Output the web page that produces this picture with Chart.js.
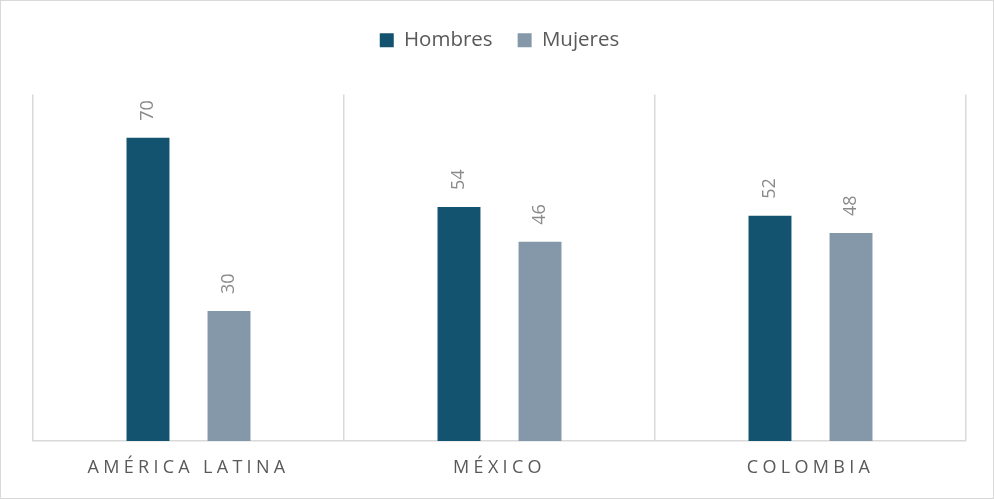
<!DOCTYPE html>
<html>
<head>
<meta charset="utf-8">
<script src="https://cdn.jsdelivr.net/npm/chart.js@4/dist/chart.umd.min.js"></script>
<style>
html,body{margin:0;padding:0;background:#fff;}
#wrap{width:994px;height:499px;position:relative;}
</style>
</head>
<body>
<div id="wrap"><canvas id="c" width="994" height="499"></canvas></div>
<script>
const categories = ["AMÉRICA LATINA", "MÉXICO", "COLOMBIA"];
const seriesNames = ["Hombres", "Mujeres"];
const hombres = [70, 54, 52];
const mujeres = [30, 46, 48];
const colors = ["#14536F", "#8598AA"];

const FONT = "'Open Sans', 'Liberation Sans', sans-serif";

const labelPlugin = {
  id: 'valueLabels',
  beforeLayout(chart) {
    const lg = chart.legend;
    if (lg && !lg._fitPatched) {
      const f = lg.fit.bind(lg);
      lg.fit = function () { f(); this.height += 34; };
      lg._fitPatched = true;
    }
  },
  afterLayout(chart) {
    const sc = chart.scales.x;
    if (sc && !sc._lsPatched) {
      const orig = sc.drawLabels.bind(sc);
      sc.drawLabels = function (area) {
        const ctx = this.ctx;
        ctx.save();
        ctx.letterSpacing = "4.3px";
        orig(area);
        ctx.restore();
      };
      sc._lsPatched = true;
    }
  },
  afterDatasetsDraw(chart) {
    const ctx = chart.ctx;
    chart.data.datasets.forEach((ds, i) => {
      const meta = chart.getDatasetMeta(i);
      meta.data.forEach((el, j) => {
        ctx.save();
        ctx.translate(el.x, el.y - 17);
        ctx.rotate(-Math.PI / 2);
        ctx.font = "18px " + FONT;
        ctx.fillStyle = "#8a8a8a";
        ctx.textAlign = "left";
        ctx.textBaseline = "middle";
        ctx.fillText(String(ds.data[j]), 0, 0);
        ctx.restore();
      });
    });
  },
  afterDraw(chart) {
    const ctx = chart.ctx;
    ctx.save();
    ctx.strokeStyle = "#d9d9d9";
    ctx.lineWidth = 1;
    ctx.strokeRect(0.5, 0.5, chart.width - 1, chart.height - 1);
    ctx.restore();
  }
};

new Chart(document.getElementById('c'), {
  type: 'bar',
  data: {
    labels: categories,
    datasets: [
      { label: seriesNames[0], data: hombres, backgroundColor: colors[0], categoryPercentage: 0.521, barPercentage: 0.53 },
      { label: seriesNames[1], data: mujeres, backgroundColor: colors[1], categoryPercentage: 0.521, barPercentage: 0.53 }
    ]
  },
  options: {
    responsive: false,
    animation: false,
    devicePixelRatio: 1,
    layout: { padding: { left: 33, right: 28, top: 5, bottom: 0 } },
    plugins: {
      legend: {
        position: 'top',
        labels: {
          boxWidth: 14,
          boxHeight: 14,
          padding: 25,
          color: "#595959",
          font: { family: FONT, size: 20.5 }
        }
      },
      tooltip: { enabled: false }
    },
    scales: {
      x: {
        grid: { display: true, offset: true, color: "#d9d9d9", lineWidth: 1.5, drawTicks: false },
        border: { display: true, color: "#d9d9d9", width: 1.5 },
        ticks: { color: "#595959", font: { family: FONT, size: 18 }, padding: 16, maxRotation: 0 },
        afterFit(s) { s.height = 58; }
      },
      y: {
        display: false,
        min: 0,
        max: 80
      }
    }
  },
  plugins: [labelPlugin]
});
</script>
</body>
</html>
